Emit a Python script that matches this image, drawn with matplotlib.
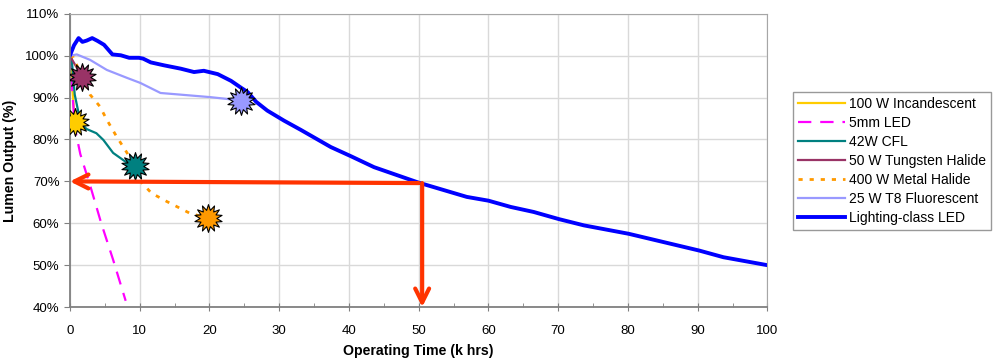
import matplotlib
matplotlib.use("Agg")
import matplotlib.pyplot as plt
from matplotlib.path import Path
from matplotlib.ticker import MultipleLocator, FuncFormatter

plt.rcParams['font.family'] = ['Liberation Sans', 'DejaVu Sans']

# operating time (k hrs) and lumen output (%)
inc_x = [0, 0.72]
inc_y = [100, 84.2]

led5_x = [0, 0.25, 0.5, 0.75, 1.5, 3, 4.5, 6.2, 8]
led5_y = [100, 94, 88, 82.5, 76.5, 68.5, 60, 51.3, 41.5]

cfl_x = [0, 0.25, 0.7, 1.4, 1.9, 2.4, 3.8, 4.8, 6.2, 7.9, 9.3]
cfl_y = [100, 99.4, 90.7, 85.1, 83.3, 82.5, 81.5, 79.9, 76.8, 74.8, 73.6]

tung_x = [0, 1.8]
tung_y = [100, 94.8]

mh_x = [0, 0.5, 1.4, 2.9, 4.3, 5.3, 6.7, 8.2, 9.8, 11.7, 13.9, 17.2, 19.8]
mh_y = [100, 99.6, 96.2, 90.7, 87.9, 84.7, 80.7, 76.8, 70.6, 67.2, 65.2, 62.4, 61.2]

t8_x = [0, 1, 2.9, 5.3, 8.2, 10.1, 13, 15.9, 20.2, 23.5, 24.5]
t8_y = [100, 100.3, 99, 96.6, 94.7, 93.5, 91.1, 90.7, 90.1, 89.5, 89.3]

led_x = [0, 0.6, 1.25, 1.8, 2.4, 3.2, 4.0, 4.9, 6.1, 7.3, 8.5, 9.9, 10.5, 11.6, 13.5,
         15.9, 17.8, 19.2, 21.2, 23.1, 24.5, 25.5, 26.7, 28.3, 30.7, 33.1, 37.4, 40.3,
         43.6, 50, 56.9, 60, 63.2, 66.5, 70.1, 73.7, 80.1, 90.2, 93.7, 100]
led_y = [100, 102.5, 104.2, 103.3, 103.6, 104.2, 103.5, 102.6, 100.3, 100.1, 99.5, 99.5,
         99.3, 98.4, 97.7, 96.9, 96.1, 96.4, 95.6, 94.0, 92.4, 91.3, 89.0, 86.9, 84.5,
         82.3, 78.2, 76.0, 73.4, 69.7, 66.3, 65.4, 63.9, 62.7, 61.0, 59.5, 57.5, 53.5,
         51.9, 50.0]

# end-of-life star markers
star_x = [0.72, 1.8, 9.3, 19.8, 24.5]
star_y = [84.2, 94.8, 73.6, 61.2, 89.3]
star_colors = ['#FFCC00', '#993366', '#008080', '#FF9900', '#9999FF']

led_l70_hrs = 50
l70_level = 69.6

fig = plt.figure(figsize=(9.98, 3.63), dpi=100)
ax = fig.add_axes([0.070, 0.154, 0.699, 0.808])

ax.plot(inc_x, inc_y, color='#FFCC00', lw=1.6, label='100 W Incandescent')
ax.plot(led5_x, led5_y, color='#FF00FF', lw=1.6, dashes=(6, 4), label='5mm LED')
ax.plot(cfl_x, cfl_y, color='#008080', lw=1.6, label='42W CFL')
ax.plot(tung_x, tung_y, color='#993366', lw=1.6, label='50 W Tungsten Halide')
ax.plot(mh_x, mh_y, color='#FF9900', lw=2.0, dashes=(1.5, 2.5), label='400 W Metal Halide')
ax.plot(t8_x, t8_y, color='#9999FF', lw=1.6, label='25 W T8 Fluorescent')
ax.plot(led_x, led_y, color='#0000FF', lw=2.8, label='Lighting-class LED')

star = Path.unit_regular_star(14, 0.6)
for sx, sy, c in zip(star_x, star_y, star_colors):
    ax.plot(sx, sy, marker=star, markersize=20, markerfacecolor=c,
            markeredgecolor='black', markeredgewidth=0.8, zorder=5, linestyle='none')

red = '#FF3300'
ax.annotate('', xy=(0, 70), xytext=(led_l70_hrs, l70_level),
            arrowprops=dict(arrowstyle='->', lw=3, color=red, mutation_scale=25,
                            shrinkA=0, shrinkB=0), zorder=6)
ax.annotate('', xy=(led_l70_hrs + 0.5, 40), xytext=(led_l70_hrs + 0.5, l70_level),
            arrowprops=dict(arrowstyle='->', lw=3, color=red, mutation_scale=25,
                            shrinkA=0, shrinkB=0), zorder=6)

ax.set_xlim(0, 100)
ax.set_ylim(40, 110)
ax.xaxis.set_major_locator(MultipleLocator(10))
ax.xaxis.set_minor_locator(MultipleLocator(5))
ax.yaxis.set_major_locator(MultipleLocator(10))
ax.yaxis.set_major_formatter(FuncFormatter(lambda v, p: '%d%%' % v))
ax.grid(True, color='#D9D9D9', lw=1)
ax.set_axisbelow(True)
ax.tick_params(axis='x', which='major', direction='inout', length=6, color='#808080',
               labelsize=9.5, pad=10)
ax.tick_params(axis='x', which='minor', direction='in', length=3, color='#808080')
ax.tick_params(axis='y', direction='out', length=4, color='#808080', labelsize=9.5)
for s in ax.spines.values():
    s.set_color('#A6A6A6')
ax.spines['left'].set_color('#808080')
ax.spines['bottom'].set_color('#808080')
ax.spines['left'].set_linewidth(1.3)
ax.spines['bottom'].set_linewidth(1.3)

ax.set_xlabel('Operating Time (k hrs)', fontsize=10.2, fontweight='bold', labelpad=5)
ax.set_ylabel('Lumen Output (%)', fontsize=10.2, fontweight='bold', labelpad=6)

leg = fig.legend(loc='upper left', bbox_to_anchor=(0.7946, 0.747), fontsize=10.0,
                 frameon=True, fancybox=False, handlelength=3.4, handletextpad=0.3,
                 labelspacing=0.36, borderpad=0.35, borderaxespad=0)
leg.get_frame().set_edgecolor('#808080')
leg.get_frame().set_linewidth(1)

fig.savefig('out.png', dpi=100)
